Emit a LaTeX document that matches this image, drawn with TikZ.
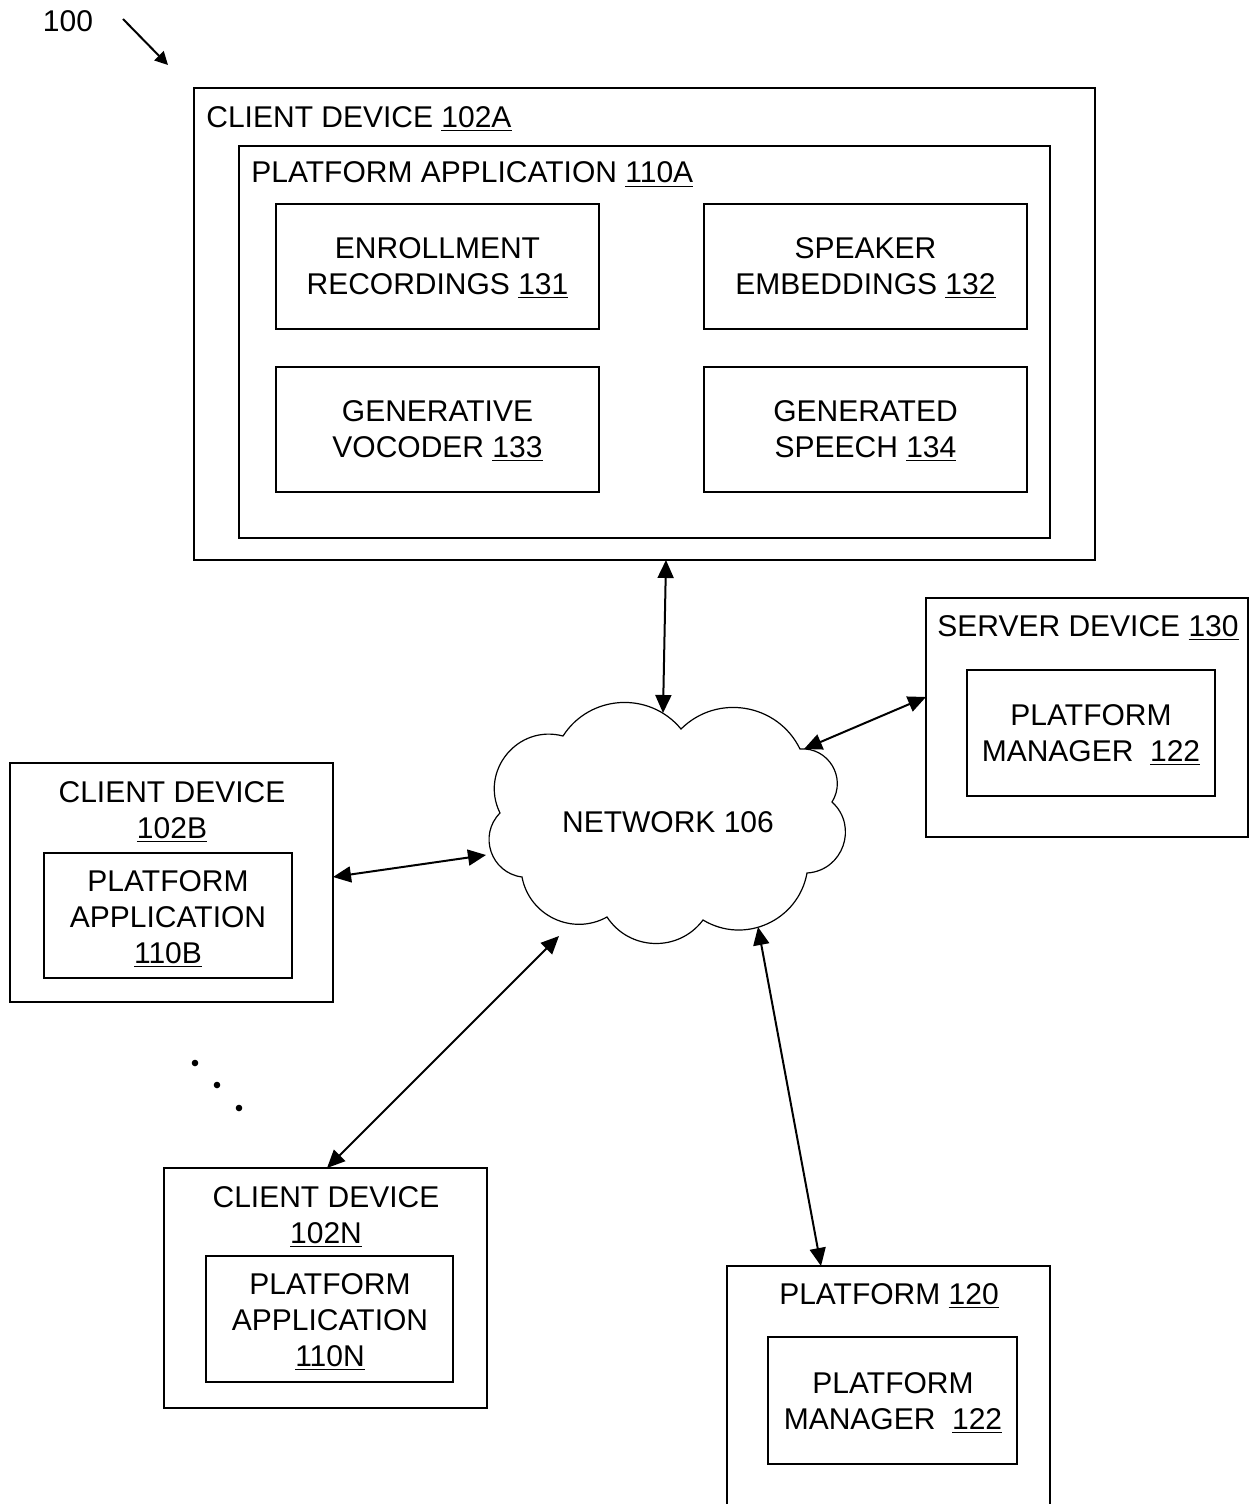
\documentclass[tikz,border=0pt]{standalone}
\usepackage{fontspec}
\setmainfont{Liberation Sans}
\usetikzlibrary{arrows.meta,calc}
\newcommand\un[1]{\underline{#1}}
\begin{document}
\begin{tikzpicture}[x=0.5pt,y=-0.5pt,
  box/.style 2 args={draw,line width=1pt,minimum width=#1*0.5pt,minimum height=#2*0.5pt,inner sep=0pt,outer sep=0pt,anchor=north west},
  lbl/.style={font=\fontsize{15}{18}\selectfont,inner sep=0pt,align=center},
  arr/.style={{Triangle[length=9pt,width=8pt]}-{Triangle[length=9pt,width=8pt]},line width=1pt},
  cloudline/.style={line width=0.6pt}]
\useasboundingbox (0,0) rectangle (1249,1504);
\clip (0,0) rectangle (1249,1504);

% reference label
\node[lbl,anchor=north] (ref) at (68,10) {100};
\coordinate (r1) at (123,19);
\coordinate (r2) at (168,65);
\draw[-{Triangle[length=6.5pt,width=6.5pt]},line width=1pt] (r1) -- (r2);

% client device 102A
\node[box={901}{472}] (cd102a) at (194,88) {};
\node[lbl,anchor=base west] (cd102alabel) at (206,127) {CLIENT DEVICE \un{102A}};
\node[box={811}{392}] (pa110a) at (239,146) {};
\node[lbl,anchor=base west] (pa110alabel) at (251,183) {PLATFORM APPLICATION \un{110A}};
\node[box={323}{125}] (er) at (276,204) {};
\node[lbl,anchor=north] (erlabel) at (437.5,237) {ENROLLMENT\\RECORDINGS \un{131}};
\node[box={323}{125}] (se) at (704,204) {};
\node[lbl,anchor=north] (selabel) at (865.5,237) {SPEAKER\\EMBEDDINGS \un{132}};
\node[box={323}{125}] (gv) at (276,367) {};
\node[lbl,anchor=north] (gvlabel) at (437.5,400) {GENERATIVE\\VOCODER \un{133}};
\node[box={323}{125}] (gs) at (704,367) {};
\node[lbl,anchor=north] (gslabel) at (865.5,400) {GENERATED\\SPEECH \un{134}};

% server device 130
\node[box={322}{239}] (srv) at (926,598) {};
\node[lbl,anchor=base] (srvlabel) at (1088,636) {SERVER DEVICE \un{130}};
\node[box={248}{126}] (pm1) at (967,670) {};
\node[lbl,anchor=north] (pm1label) at (1091,704) {PLATFORM\\MANAGER\ \ \un{122}};

% client device 102B
\node[box={323}{239}] (cd102b) at (10,763) {};
\node[lbl,anchor=north] (cd102blabel) at (172,781) {CLIENT DEVICE\\\un{102B}};
\node[box={248}{125}] (pa110b) at (44,853) {};
\node[lbl,anchor=north] (pa110blabel) at (168,870) {PLATFORM\\APPLICATION\\\un{110B}};

% client device 102N
\node[box={323}{240}] (cd102n) at (164,1168) {};
\node[lbl,anchor=north] (cd102nlabel) at (326,1186) {CLIENT DEVICE\\\un{102N}};
\node[box={247}{126}] (pa110n) at (206,1256) {};
\node[lbl,anchor=north] (pa110nlabel) at (330,1273) {PLATFORM\\APPLICATION\\\un{110N}};

% platform 120
\node[box={323}{270}] (plat) at (727,1266) {};
\node[lbl,anchor=base] (platlabel) at (889,1304) {PLATFORM \un{120}};
\node[box={249}{127}] (pm2) at (768,1337) {};
\node[lbl,anchor=north] (pm2label) at (893,1372) {PLATFORM\\MANAGER\ \ \un{122}};

% dots
\fill (195,1063) circle (3.3);
\fill (217,1085) circle (3.3);
\fill (239,1108) circle (3.3);

% network cloud
\draw[cloudline] (563,736)
  .. controls (589.7,694.4) and (649.5,690.8) .. (681,729)
  .. controls (717.1,693.2) and (777.7,703.4) .. (800,749)
  .. controls (828.4,746.9) and (847.0,777.9) .. (832,802)
  .. controls (858.8,826.3) and (843.0,870.9) .. (807,873)
  .. controls (798.4,920.7) and (744.6,945.1) .. (703,920)
  .. controls (678.7,952.6) and (629.3,951.0) .. (607,917)
  .. controls (572.5,936.2) and (529.3,915.8) .. (522,877)
  .. controls (491.0,873.0) and (478.0,835.2) .. (500,813)
  .. controls (479.3,771.0) and (517.7,724.0) .. (563,736) -- cycle;
\node[lbl] (net) at (668,822.5) {NETWORK 106};

% cloud attachment points
\coordinate (c1) at (663,713);
\coordinate (c2) at (804,749);
\coordinate (c3) at (486,855);
\coordinate (c4) at (559,936);
\coordinate (c5) at (758,927);

% connectors
\draw[arr] ($(cd102a.south)+(21.5,0)$) -- (c1);
\draw[arr] ($(srv.west)+(0,-20.5)$) -- (c2);
\draw[arr] ($(cd102b.east)+(0,-5.5)$) -- (c3);
\draw[arr] ($(cd102n.north)+(1.5,0)$) -- (c4);
\draw[arr] ($(plat.north)+(-67.5,0)$) -- (c5);
\end{tikzpicture}
\end{document}
